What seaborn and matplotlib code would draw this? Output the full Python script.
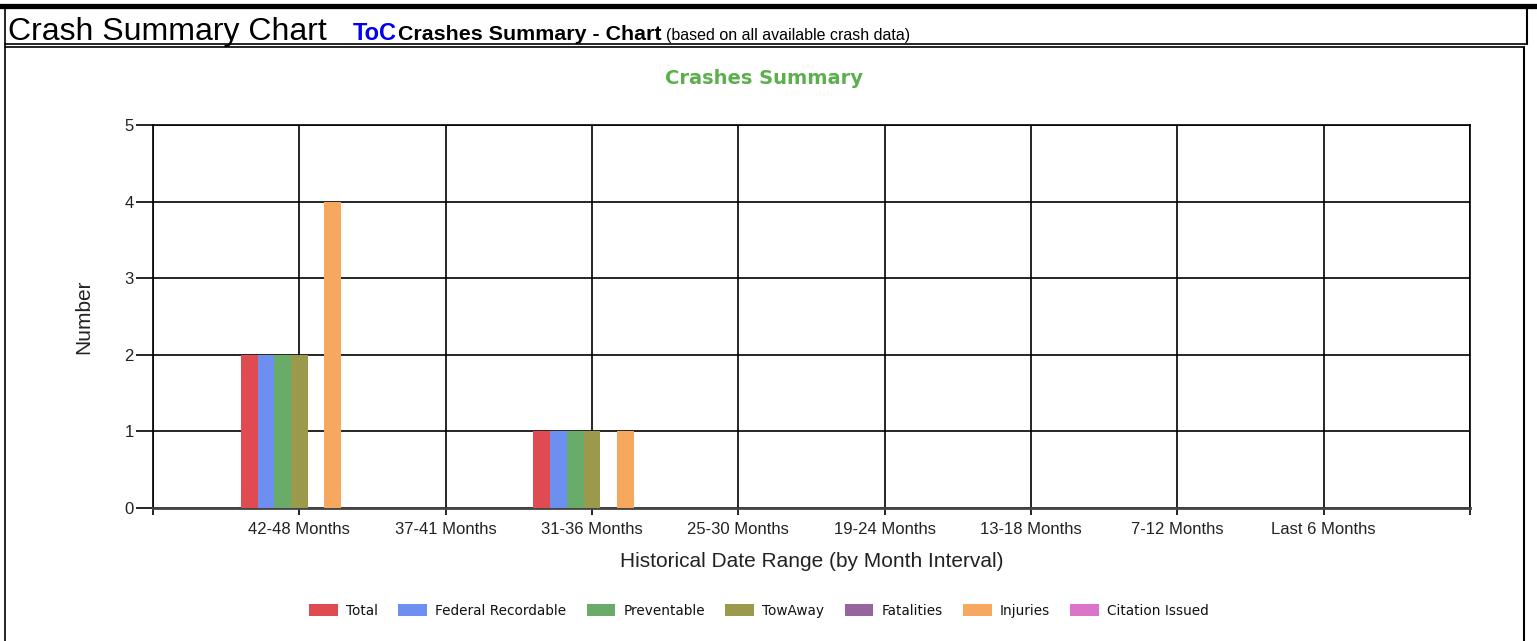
"""Crash summary chart: grouped bars of crash counts per historical month interval."""

import matplotlib.pyplot as plt
import pandas as pd
import seaborn as sns
from matplotlib.lines import Line2D

W, H = 1537, 641

categories = [
    "42-48 Months", "37-41 Months", "31-36 Months", "25-30 Months",
    "19-24 Months", "13-18 Months", "7-12 Months", "Last 6 Months",
]
series_names = [
    "Total", "Federal Recordable", "Preventable", "TowAway",
    "Fatalities", "Injuries", "Citation Issued",
]
total = [2, 0, 1, 0, 0, 0, 0, 0]
federal_recordable = [2, 0, 1, 0, 0, 0, 0, 0]
preventable = [2, 0, 1, 0, 0, 0, 0, 0]
tow_away = [2, 0, 1, 0, 0, 0, 0, 0]
fatalities = [0, 0, 0, 0, 0, 0, 0, 0]
injuries = [4, 0, 1, 0, 0, 0, 0, 0]
citation_issued = [0, 0, 0, 0, 0, 0, 0, 0]
y_ticks = [0, 1, 2, 3, 4, 5]

colors = ["#E04B51", "#6D8FEF", "#69AB69", "#9A994C", "#97649E", "#F5A85E", "#DA75CA"]

series_values = [total, federal_recordable, preventable, tow_away,
                 fatalities, injuries, citation_issued]
rows = []
for name, vals in zip(series_names, series_values):
    for cat, v in zip(categories, vals):
        rows.append({"range": cat, "series": name, "count": v})
df = pd.DataFrame(rows)

sns.set_theme(style="white")
plt.rcParams["font.family"] = ["Liberation Sans", "DejaVu Sans"]

fig = plt.figure(figsize=(W / 100, H / 100), dpi=100)
ax = fig.add_axes([153 / W, 1 - 508 / H, (1470 - 153) / W, (508 - 125) / H])

sns.barplot(
    data=df, x="range", y="count", hue="series",
    order=categories, hue_order=series_names,
    palette=colors, saturation=1, width=0.8, linewidth=0,
    ax=ax, zorder=3,
)

ax.set_xlim(-1, len(categories))
ax.set_ylim(0, 5)
ax.set_yticks(y_ticks)
ax.set_xticks(range(-1, len(categories) + 1))
ax.set_xticklabels([""] + categories + [""], fontsize=12, color="#222222")
ax.tick_params(axis="x", length=5, width=1.2, color="black", pad=5, bottom=True)
ax.tick_params(axis="y", length=12, width=1.2, color="black", pad=2, left=True,
               labelsize=12, labelcolor="#222222")
ax.grid(True, color="black", linewidth=1.2, zorder=0)
ax.set_axisbelow(True)
for s in ax.spines.values():
    s.set_color("black")
    s.set_linewidth(1.2)
ax.spines["bottom"].set_color("#444444")
ax.spines["bottom"].set_linewidth(2)

ax.set_xlabel("Historical Date Range (by Month Interval)", fontsize=15,
              color="#222222", labelpad=11)
ax.set_ylabel("Number", fontsize=15, color="#222222", labelpad=22)
fig.text(764 / W, 1 - 79 / H, "Crashes Summary", fontsize=14, fontweight="bold",
         color="#5DAF4E", family="DejaVu Sans", ha="center", va="center")

handles, labels = ax.get_legend_handles_labels()
ax.legend_.remove()
fig.legend(handles, labels, loc="center", bbox_to_anchor=(759 / W, 1 - 611 / H),
           ncol=7, frameon=False, handlelength=2.1, handleheight=1.0,
           handletextpad=0.6, columnspacing=1.5,
           prop={"family": "DejaVu Sans", "size": 9.8})
for t in fig.legends[0].get_texts():
    t.set_color("#111111")

# page header frame
def fline(x0, y0, x1, y1, lw):
    fig.add_artist(Line2D([x0 / W, x1 / W], [1 - y0 / H, 1 - y1 / H],
                          color="black", linewidth=lw, transform=fig.transFigure))

fline(0, 5.5, W, 5.5, 3.8)
fline(5, 6, 5, 641, 1.2)
fline(1527, 6, 1527, 44, 1.5)
fline(5, 44, 1527, 44, 1.2)
fline(5, 47, 1524, 47, 1.2)
fline(1524, 47, 1524, 641, 1.5)

base = 1 - 40 / H
fig.text(8 / W, base, "Crash Summary Chart", fontsize=23, color="black",
         va="baseline")
fig.text(353 / W, base, "ToC", fontsize=17, fontweight="bold", color="#0000EE",
         va="baseline")
fig.text(398 / W, base, "Crashes Summary - Chart", fontsize=15.4,
         fontweight="bold", color="black", va="baseline")
fig.text(666 / W, base, "(based on all available crash data)", fontsize=11.5,
         color="black", va="baseline")

fig.savefig("out.png", dpi=100)
